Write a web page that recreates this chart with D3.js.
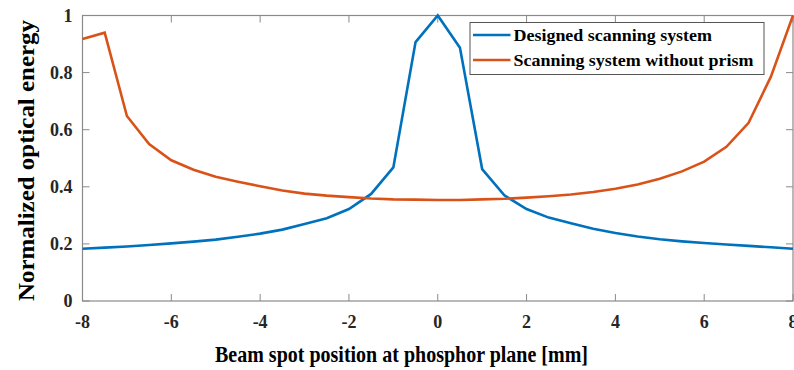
<!DOCTYPE html>
<html><head><meta charset="utf-8">
<script src="https://cdn.jsdelivr.net/npm/d3@7"></script>
<style>body{margin:0;background:#fff}svg{display:block}</style>
</head><body>
<svg id="c" width="794" height="370"></svg>
<script>
const xs = [-8,-7.5,-7,-6.5,-6,-5.5,-5,-4.5,-4,-3.5,-3,-2.5,-2,-1.5,-1,-0.5,0,0.5,1,1.5,2,2.5,3,3.5,4,4.5,5,5.5,6,6.5,7,7.5,8];
const designed = [0.183,0.187,0.191,0.196,0.202,0.208,0.215,0.225,0.236,0.25,0.27,0.29,0.322,0.375,0.468,0.907,1.0,0.887,0.462,0.37,0.322,0.292,0.272,0.253,0.238,0.226,0.216,0.209,0.203,0.198,0.193,0.188,0.183];
const noPrism = [0.918,0.94,0.648,0.55,0.493,0.46,0.435,0.418,0.402,0.387,0.376,0.369,0.364,0.359,0.356,0.355,0.354,0.354,0.356,0.358,0.362,0.367,0.373,0.382,0.393,0.408,0.428,0.454,0.488,0.54,0.624,0.785,1.0];
const xTicks = [-8,-6,-4,-2,0,2,4,6,8];
const yTicks = [0,0.2,0.4,0.6,0.8,1];
const seriesNames = ["Designed scanning system","Scanning system without prism"];
const colors = ["#0072BD","#D95319"];

const svg = d3.select("#c");
const L=82.5, R=793, T=15.5, B=301;
const x = d3.scaleLinear().domain([-8,8]).range([L,R]);
const y = d3.scaleLinear().domain([0,1]).range([B,T]);
const font = "'Liberation Serif','Times New Roman',serif";
const axisCol = "#8a8a8a";

const g = svg.append("g");
g.append("rect").attr("x",L).attr("y",T).attr("width",R-L).attr("height",B-T)
 .attr("fill","none").attr("stroke",axisCol).attr("stroke-width",1.2);

const tl = 7;
xTicks.forEach(t=>{
  g.append("line").attr("x1",x(t)).attr("x2",x(t)).attr("y1",B).attr("y2",B-tl).attr("stroke",axisCol);
  g.append("line").attr("x1",x(t)).attr("x2",x(t)).attr("y1",T).attr("y2",T+tl).attr("stroke",axisCol);
  g.append("text").attr("x",x(t)).attr("y",327.5).attr("text-anchor","middle")
   .attr("font-family",font).attr("font-weight","bold").attr("font-size",18).attr("fill","#262626").text(t);
});
yTicks.forEach(t=>{
  g.append("line").attr("x1",L).attr("x2",L+tl).attr("y1",y(t)).attr("y2",y(t)).attr("stroke",axisCol);
  g.append("line").attr("x1",R).attr("x2",R-tl).attr("y1",y(t)).attr("y2",y(t)).attr("stroke",axisCol);
  g.append("text").attr("x",72.5).attr("y",y(t)+6).attr("text-anchor","end")
   .attr("font-family",font).attr("font-weight","bold").attr("font-size",18).attr("fill","#262626").text(t);
});

const line = d3.line().x((d,i)=>x(xs[i])).y(d=>y(d));
[designed,noPrism].forEach((s,k)=>{
  svg.append("path").attr("d",line(s)).attr("fill","none").attr("stroke",colors[k])
   .attr("stroke-width",2.6).attr("stroke-linejoin","miter");
});

svg.append("text").attr("x",401.5).attr("y",362).attr("text-anchor","middle")
 .attr("font-family",font).attr("font-weight","bold").attr("font-size",23).attr("fill","#000")
 .attr("textLength",373).attr("lengthAdjust","spacingAndGlyphs")
 .text("Beam spot position at phosphor plane [mm]");
svg.append("text").attr("transform","translate(34,160.5) rotate(-90)").attr("text-anchor","middle")
 .attr("font-family",font).attr("font-weight","bold").attr("font-size",23).attr("fill","#000")
 .attr("textLength",281).attr("lengthAdjust","spacingAndGlyphs")
 .text("Normalized optical energy");

const lg = svg.append("g");
lg.append("rect").attr("x",470).attr("y",22.5).attr("width",294).attr("height",52)
 .attr("fill","#fff").attr("stroke","#555").attr("stroke-width",1);
const lens=[198.5,240];
seriesNames.forEach((n,k)=>{
  const cy = 35 + k*25;
  lg.append("line").attr("x1",473).attr("x2",510.5).attr("y1",cy).attr("y2",cy)
   .attr("stroke",colors[k]).attr("stroke-width",2.6);
  lg.append("text").attr("x",513.5).attr("y",cy+6).attr("font-family",font).attr("font-weight","bold")
   .attr("font-size",17).attr("fill","#000").attr("textLength",lens[k]).attr("lengthAdjust","spacingAndGlyphs").text(n);
});
</script>
</body></html>
